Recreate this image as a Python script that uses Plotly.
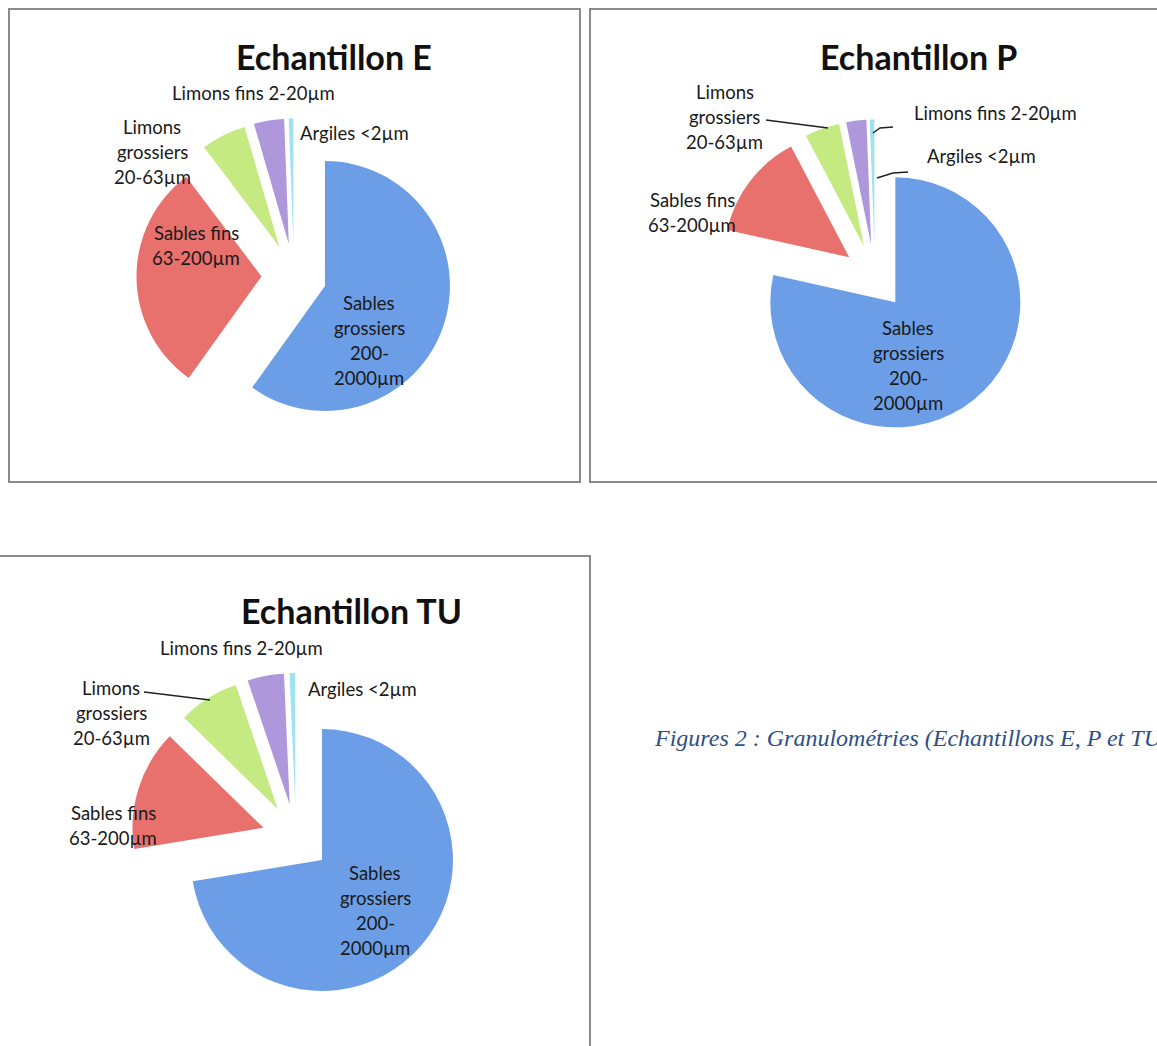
import plotly.graph_objects as go

W, H = 1157, 1046

categories = ["Sables grossiers 200-2000µm", "Sables fins 63-200µm",
              "Limons grossiers 20-63µm", "Limons fins 2-20µm", "Argiles <2µm"]
values_E = [59.9, 29.8, 5.8, 3.9, 0.6]
values_P = [78.5, 13.8, 4.5, 2.6, 0.6]
values_TU = [72.4, 14.9, 7.5, 4.5, 0.7]
titles = ["Echantillon E", "Echantillon P", "Echantillon TU"]
caption = "Figures 2 : Granulométries (Echantillons E, P et TU)"

colors = ["#6B9EE6", "#E8706D", "#C6EA82", "#AE97DB", "#A0E1F2"]
PULL = 0.26
FONT = "Lato"


def px_x(x):
    return x / W


def px_y(y):
    return 1 - y / H


def domain(cx, cy, r):
    half = r * (1 + PULL)
    return dict(x=[px_x(cx - half), px_x(cx + half)],
                y=[px_y(cy + half), px_y(cy - half)])


pies = [
    (values_E, 294, 276, 125),
    (values_P, 875, 277, 125),
    (values_TU, 296, 838, 131),
]

fig = go.Figure()
for vals, cx, cy, r in pies:
    fig.add_trace(go.Pie(
        labels=categories, values=vals, sort=False, direction="clockwise",
        rotation=0, pull=[PULL] * len(vals), textinfo="none",
        hoverinfo="label+percent",
        marker=dict(colors=colors, line=dict(width=0)),
        domain=domain(cx, cy, r), showlegend=False,
    ))

annotations = []


def label(text, x, y, size=18.5, bold=False, color="#1A1A1A", family=FONT, italic=False, xanchor="center"):
    t = f"<b>{text}</b>" if bold else text
    annotations.append(dict(
        text=t, x=px_x(x), y=px_y(y), xref="paper", yref="paper",
        xanchor=xanchor, yanchor="middle", showarrow=False,
        font=dict(size=size, color=color, family=family,
                  style="italic" if italic else "normal"),
    ))


def multiline(lines, x, y0, step=25, **kw):
    for i, ln in enumerate(lines):
        label(ln, x, y0 + i * step, **kw)


# Titles
label(titles[0], 334, 57, size=34, bold=True, color="#111111")
label(titles[1], 918, 57, size=34, bold=True, color="#111111")
label(titles[2], 352, 610, size=34, bold=True, color="#111111")

# Chart E labels
label("Limons fins 2-20µm", 253, 93)
multiline(["Limons", "grossiers", "20-63µm"], 152, 127)
label("Argiles <2µm", 354, 133)
multiline(["Sables fins", "63-200µm"], 196, 233)
multiline(["Sables", "grossiers", "200-", "2000µm"], 369, 303)

# Chart P labels
multiline(["Limons", "grossiers", "20-63µm"], 725, 92)
label("Limons fins 2-20µm", 996, 113)
label("Argiles <2µm", 981, 156)
multiline(["Sables fins", "63-200µm"], 692, 200)
multiline(["Sables", "grossiers", "200-", "2000µm"], 908, 328)

# Chart TU labels
label("Limons fins 2-20µm", 241, 648)
multiline(["Limons", "grossiers", "20-63µm"], 111, 688)
label("Argiles <2µm", 362, 689)
multiline(["Sables fins", "63-200µm"], 113, 813)
multiline(["Sables", "grossiers", "200-", "2000µm"], 375, 873)

# Caption
label(caption, 652, 738, size=24, color="#2D4F86", family="Liberation Serif",
      italic=True, xanchor="left")

shapes = []


def box(x0, y0, x1, y1):
    shapes.append(dict(type="rect", xref="paper", yref="paper",
                       x0=px_x(x0), x1=px_x(x1), y0=px_y(y1), y1=px_y(y0),
                       line=dict(color="#8A8A8A", width=2), layer="below"))


def leader(points):
    path = "M " + " L ".join(f"{px_x(x)},{px_y(y)}" for x, y in points)
    shapes.append(dict(type="path", xref="paper", yref="paper", path=path,
                       line=dict(color="#222222", width=1.5)))


box(9, 9, 580, 482)
box(590, 9, 1170, 482)
box(-10, 556, 590, 1060)

leader([(766, 120), (828, 128)])
leader([(893, 127), (880, 128), (873, 133)])
leader([(908, 172), (893, 173), (877, 178)])
leader([(144, 692), (210, 700)])

fig.update_layout(
    width=W, height=H, margin=dict(l=0, r=0, t=0, b=0),
    paper_bgcolor="white", plot_bgcolor="white",
    annotations=annotations, shapes=shapes,
)

fig.write_html("out.html")
